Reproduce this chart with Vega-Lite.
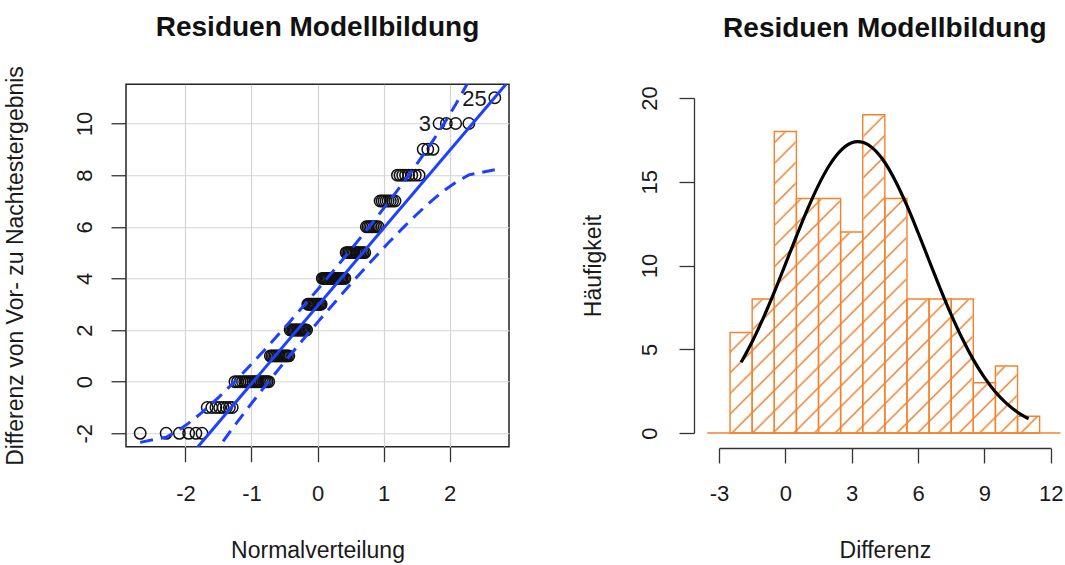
{
  "$schema": "https://vega.github.io/schema/vega-lite/v6.json",
  "autosize": {"type": "pad"},
  "padding": {"left": 3, "top": 13, "right": 0, "bottom": 0},
  "background": "white",
  "bounds": "flush",
  "center": true,
  "spacing": 210,
  "config": {
    "font": "Liberation Sans",
    "axis": {
      "labelFont": "Liberation Sans",
      "titleFont": "Liberation Sans",
      "labelFontSize": 22,
      "titleFontSize": 23,
      "labelColor": "#1a1a1a",
      "titleColor": "#1a1a1a",
      "titleFontWeight": "normal",
      "tickColor": "#333333",
      "domainColor": "#333333",
      "tickSize": 15,
      "tickWidth": 1.3,
      "domainWidth": 1.3,
      "labelFlush": false,
      "labelOverlap": false,
      "gridColor": "#d4d4d4",
      "gridWidth": 1.2
    },
    "title": {"font": "Liberation Sans", "fontSize": 28, "fontWeight": "bold", "color": "#111111", "baseline": "alphabetic", "anchor": "middle", "frame": "group"}
  },
  "datasets": {
    "qq": [
      {"q": -2.685, "v": -2}, {"q": -2.292, "v": -2}, {"q": -2.092, "v": -2}, {"q": -1.951, "v": -2}, {"q": -1.841, "v": -2}, {"q": -1.749, "v": -2},
      {"q": -1.670, "v": -1}, {"q": -1.601, "v": -1}, {"q": -1.538, "v": -1}, {"q": -1.481, "v": -1}, {"q": -1.428, "v": -1}, {"q": -1.379, "v": -1}, {"q": -1.334, "v": -1}, {"q": -1.291, "v": -1},
      {"q": -1.250, "v": 0}, {"q": -1.211, "v": 0}, {"q": -1.173, "v": 0}, {"q": -1.137, "v": 0}, {"q": -1.103, "v": 0}, {"q": -1.070, "v": 0}, {"q": -1.038, "v": 0}, {"q": -1.007, "v": 0}, {"q": -0.977, "v": 0}, {"q": -0.948, "v": 0}, {"q": -0.920, "v": 0}, {"q": -0.892, "v": 0}, {"q": -0.866, "v": 0}, {"q": -0.839, "v": 0}, {"q": -0.813, "v": 0}, {"q": -0.788, "v": 0}, {"q": -0.763, "v": 0}, {"q": -0.739, "v": 0},
      {"q": -0.715, "v": 1}, {"q": -0.692, "v": 1}, {"q": -0.668, "v": 1}, {"q": -0.646, "v": 1}, {"q": -0.624, "v": 1}, {"q": -0.602, "v": 1}, {"q": -0.580, "v": 1}, {"q": -0.558, "v": 1}, {"q": -0.537, "v": 1}, {"q": -0.516, "v": 1}, {"q": -0.495, "v": 1}, {"q": -0.475, "v": 1}, {"q": -0.454, "v": 1}, {"q": -0.434, "v": 1},
      {"q": -0.414, "v": 2}, {"q": -0.394, "v": 2}, {"q": -0.374, "v": 2}, {"q": -0.355, "v": 2}, {"q": -0.336, "v": 2}, {"q": -0.316, "v": 2}, {"q": -0.297, "v": 2}, {"q": -0.278, "v": 2}, {"q": -0.259, "v": 2}, {"q": -0.240, "v": 2}, {"q": -0.222, "v": 2}, {"q": -0.203, "v": 2}, {"q": -0.184, "v": 2}, {"q": -0.165, "v": 2},
      {"q": -0.147, "v": 3}, {"q": -0.129, "v": 3}, {"q": -0.110, "v": 3}, {"q": -0.092, "v": 3}, {"q": -0.073, "v": 3}, {"q": -0.055, "v": 3}, {"q": -0.037, "v": 3}, {"q": -0.018, "v": 3}, {"q": 0, "v": 3}, {"q": 0.018, "v": 3}, {"q": 0.037, "v": 3}, {"q": 0.055, "v": 3},
      {"q": 0.073, "v": 4}, {"q": 0.092, "v": 4}, {"q": 0.110, "v": 4}, {"q": 0.129, "v": 4}, {"q": 0.147, "v": 4}, {"q": 0.165, "v": 4}, {"q": 0.184, "v": 4}, {"q": 0.203, "v": 4}, {"q": 0.222, "v": 4}, {"q": 0.240, "v": 4}, {"q": 0.259, "v": 4}, {"q": 0.278, "v": 4}, {"q": 0.297, "v": 4}, {"q": 0.316, "v": 4}, {"q": 0.336, "v": 4}, {"q": 0.355, "v": 4}, {"q": 0.374, "v": 4}, {"q": 0.394, "v": 4}, {"q": 0.414, "v": 4},
      {"q": 0.434, "v": 5}, {"q": 0.454, "v": 5}, {"q": 0.475, "v": 5}, {"q": 0.495, "v": 5}, {"q": 0.516, "v": 5}, {"q": 0.537, "v": 5}, {"q": 0.558, "v": 5}, {"q": 0.580, "v": 5}, {"q": 0.602, "v": 5}, {"q": 0.624, "v": 5}, {"q": 0.646, "v": 5}, {"q": 0.668, "v": 5}, {"q": 0.692, "v": 5}, {"q": 0.715, "v": 5},
      {"q": 0.739, "v": 6}, {"q": 0.763, "v": 6}, {"q": 0.788, "v": 6}, {"q": 0.813, "v": 6}, {"q": 0.839, "v": 6}, {"q": 0.866, "v": 6}, {"q": 0.892, "v": 6}, {"q": 0.920, "v": 6},
      {"q": 0.948, "v": 7}, {"q": 0.977, "v": 7}, {"q": 1.007, "v": 7}, {"q": 1.038, "v": 7}, {"q": 1.070, "v": 7}, {"q": 1.103, "v": 7}, {"q": 1.137, "v": 7}, {"q": 1.173, "v": 7},
      {"q": 1.211, "v": 8}, {"q": 1.250, "v": 8}, {"q": 1.291, "v": 8}, {"q": 1.334, "v": 8}, {"q": 1.379, "v": 8}, {"q": 1.428, "v": 8}, {"q": 1.481, "v": 8}, {"q": 1.538, "v": 8},
      {"q": 1.601, "v": 9}, {"q": 1.670, "v": 9}, {"q": 1.749, "v": 9},
      {"q": 1.841, "v": 10, "lab": "3"}, {"q": 1.951, "v": 10}, {"q": 2.092, "v": 10}, {"q": 2.292, "v": 10},
      {"q": 2.685, "v": 11, "lab": "25"}
    ],
    "fit": [
      {"q": -2.9, "v": -5.799}, {"q": 2.9, "v": 11.659}
    ],
    "env": [
      {"q": -2.685, "hi": -2.350, "lo": -7.954},
      {"q": -2.292, "hi": -2.151, "lo": -5.787},
      {"q": -2.092, "hi": -1.859, "lo": -4.875},
      {"q": -1.951, "hi": -1.605, "lo": -4.280},
      {"q": -1.841, "hi": -1.385, "lo": -3.837},
      {"q": -1.749, "hi": -1.190, "lo": -3.479},
      {"q": -1.601, "hi": -0.854, "lo": -2.924},
      {"q": -1.481, "hi": -0.567, "lo": -2.489},
      {"q": -1.291, "hi": -0.090, "lo": -1.822},
      {"q": -1.070, "hi": 0.492, "lo": -1.073},
      {"q": -0.788, "hi": 1.267, "lo": -0.150},
      {"q": -0.454, "hi": 2.219, "lo": 0.908},
      {"q": 0, "hi": 3.562, "lo": 2.298},
      {"q": 0.454, "hi": 4.952, "lo": 3.641},
      {"q": 0.788, "hi": 6.010, "lo": 4.594},
      {"q": 1.070, "hi": 6.933, "lo": 5.368},
      {"q": 1.291, "hi": 7.682, "lo": 5.950},
      {"q": 1.481, "hi": 8.349, "lo": 6.427},
      {"q": 1.601, "hi": 8.784, "lo": 6.714},
      {"q": 1.749, "hi": 9.339, "lo": 7.050},
      {"q": 1.841, "hi": 9.697, "lo": 7.245},
      {"q": 1.951, "hi": 10.140, "lo": 7.465},
      {"q": 2.092, "hi": 10.735, "lo": 7.719},
      {"q": 2.292, "hi": 11.647, "lo": 8.011},
      {"q": 2.685, "hi": 13.814, "lo": 8.210}
    ],
    "hist": [
      {"bin_start": -2.5, "bin_end": -1.5, "count": 6},
      {"bin_start": -1.5, "bin_end": -0.5, "count": 8},
      {"bin_start": -0.5, "bin_end": 0.5, "count": 18},
      {"bin_start": 0.5, "bin_end": 1.5, "count": 14},
      {"bin_start": 1.5, "bin_end": 2.5, "count": 14},
      {"bin_start": 2.5, "bin_end": 3.5, "count": 12},
      {"bin_start": 3.5, "bin_end": 4.5, "count": 19},
      {"bin_start": 4.5, "bin_end": 5.5, "count": 14},
      {"bin_start": 5.5, "bin_end": 6.5, "count": 8},
      {"bin_start": 6.5, "bin_end": 7.5, "count": 8},
      {"bin_start": 7.5, "bin_end": 8.5, "count": 8},
      {"bin_start": 8.5, "bin_end": 9.5, "count": 3},
      {"bin_start": 9.5, "bin_end": 10.5, "count": 4},
      {"bin_start": 10.5, "bin_end": 11.5, "count": 1}
    ],
    "curve": [
      {"x": -2, "f": 4.22}, {"x": -1.5, "f": 5.45}, {"x": -1, "f": 6.86}, {"x": -0.5, "f": 8.41},
      {"x": 0, "f": 10.07}, {"x": 0.5, "f": 11.74}, {"x": 1, "f": 13.35}, {"x": 1.5, "f": 14.80},
      {"x": 2, "f": 16.00}, {"x": 2.5, "f": 16.86}, {"x": 3, "f": 17.33}, {"x": 3.285, "f": 17.40},
      {"x": 3.5, "f": 17.36}, {"x": 4, "f": 16.95}, {"x": 4.5, "f": 16.15}, {"x": 5, "f": 14.99},
      {"x": 5.5, "f": 13.57}, {"x": 6, "f": 11.97}, {"x": 6.5, "f": 10.30}, {"x": 7, "f": 8.64},
      {"x": 7.5, "f": 7.07}, {"x": 8, "f": 5.64}, {"x": 8.5, "f": 4.38}, {"x": 9, "f": 3.32},
      {"x": 9.5, "f": 2.45}, {"x": 10, "f": 1.77}, {"x": 10.5, "f": 1.24}, {"x": 11, "f": 0.85}
    ]
  },
  "hconcat": [
    {
      "width": 383,
      "height": 362.5,
      "title": {"text": "Residuen Modellbildung", "offset": 23.5},
      "view": {"stroke": "#222222", "strokeWidth": 1.5},
      "layer": [
        {
          "data": {"name": "qq"},
          "mark": {"type": "point", "filled": false, "stroke": "#111111", "strokeWidth": 1.5, "size": 130, "opacity": 1},
          "encoding": {
            "x": {"field": "q", "type": "quantitative", "scale": {"domain": [-2.9, 2.9], "nice": false, "zero": false},
              "axis": {"title": "Normalverteilung", "values": [-2, -1, 0, 1, 2], "grid": true, "domain": false, "labelExpr": "datum.value + ''", "labelBaseline": "alphabetic", "labelPadding": 38.5, "titleBaseline": "alphabetic", "titleY": 111}},
            "y": {"field": "v", "type": "quantitative", "scale": {"domain": [-2.52, 11.52], "nice": false, "zero": false},
              "axis": {"title": "Differenz von Vor- zu Nachtestergebnis", "values": [-2, 0, 2, 4, 6, 8, 10], "grid": true, "domain": false, "labelExpr": "datum.value + ''", "labelAngle": 270, "labelAlign": "center", "labelBaseline": "alphabetic", "labelPadding": 20, "titleAngle": 270, "titleAlign": "center", "titleBaseline": "alphabetic", "titleX": -104, "titleY": 181.25}}
          }
        },
        {
          "data": {"name": "fit"},
          "mark": {"type": "line", "color": "#1e40ff", "strokeWidth": 3, "clip": true},
          "encoding": {
            "x": {"field": "q", "type": "quantitative"},
            "y": {"field": "v", "type": "quantitative"}
          }
        },
        {
          "data": {"name": "env"},
          "mark": {"type": "line", "color": "#1e40ff", "strokeWidth": 3, "strokeDash": [13, 8], "clip": true},
          "encoding": {
            "x": {"field": "q", "type": "quantitative"},
            "y": {"field": "hi", "type": "quantitative"}
          }
        },
        {
          "data": {"name": "env"},
          "mark": {"type": "line", "color": "#1e40ff", "strokeWidth": 3, "strokeDash": [13, 8], "clip": true},
          "encoding": {
            "x": {"field": "q", "type": "quantitative"},
            "y": {"field": "lo", "type": "quantitative"}
          }
        },
        {
          "data": {"name": "qq"},
          "transform": [{"filter": "isValid(datum.lab)"}],
          "mark": {"type": "text", "align": "right", "baseline": "middle", "dx": -8, "dy": 1, "fontSize": 22, "font": "Liberation Sans", "color": "#1a1a1a"},
          "encoding": {
            "x": {"field": "q", "type": "quantitative"},
            "y": {"field": "v", "type": "quantitative"},
            "text": {"field": "lab"}
          }
        }
      ]
    },
    {
      "width": 331.7,
      "height": 335,
      "title": {"text": "Residuen Modellbildung", "offset": 42.75},
      "view": {"stroke": null},
      "layer": [
        {
          "data": {"name": "hist"},
          "mark": {"type": "rect", "fillOpacity": 0, "strokeWidth": 0},
          "encoding": {
            "x": {"field": "bin_start", "type": "quantitative", "scale": {"domain": [-3, 12], "nice": false, "zero": false},
              "axis": {"title": "Differenz", "values": [-3, 0, 3, 6, 9, 12], "grid": false, "domain": true, "offset": 15, "labelExpr": "datum.value + ''", "labelBaseline": "alphabetic", "labelPadding": 37, "titleBaseline": "alphabetic", "titleY": 109.75}},
            "x2": {"field": "bin_end"},
            "y": {"field": "count", "type": "quantitative", "scale": {"domain": [0, 20], "nice": false, "zero": false},
              "axis": {"title": "Häufigkeit", "values": [0, 5, 10, 15, 20], "grid": false, "domain": true, "offset": 25, "labelExpr": "datum.value + ''", "labelAngle": 270, "labelAlign": "center", "labelBaseline": "alphabetic", "labelPadding": 23, "titleAngle": 270, "titleAlign": "center", "titleBaseline": "alphabetic", "titleX": -94, "titleY": 167.5}},
            "y2": {"datum": 0}
          }
        },
        {
          "data": {"values": [{}]},
          "mark": {"type": "rect", "strokeWidth": 0, "fill": {"gradient": "linear", "x1": 0, "y1": 0, "x2": 0.9728, "y2": 1, "stops": [
            {"offset": 0, "color": "#ffffff"},
            {"offset": 0.0132, "color": "#ffffff"}, {"offset": 0.0167, "color": "#f08436"}, {"offset": 0.0202, "color": "#ffffff"},
            {"offset": 0.0465, "color": "#ffffff"}, {"offset": 0.0500, "color": "#f08436"}, {"offset": 0.0535, "color": "#ffffff"},
            {"offset": 0.0798, "color": "#ffffff"}, {"offset": 0.0833, "color": "#f08436"}, {"offset": 0.0868, "color": "#ffffff"},
            {"offset": 0.1132, "color": "#ffffff"}, {"offset": 0.1167, "color": "#f08436"}, {"offset": 0.1202, "color": "#ffffff"},
            {"offset": 0.1465, "color": "#ffffff"}, {"offset": 0.1500, "color": "#f08436"}, {"offset": 0.1535, "color": "#ffffff"},
            {"offset": 0.1798, "color": "#ffffff"}, {"offset": 0.1833, "color": "#f08436"}, {"offset": 0.1868, "color": "#ffffff"},
            {"offset": 0.2132, "color": "#ffffff"}, {"offset": 0.2167, "color": "#f08436"}, {"offset": 0.2202, "color": "#ffffff"},
            {"offset": 0.2465, "color": "#ffffff"}, {"offset": 0.2500, "color": "#f08436"}, {"offset": 0.2535, "color": "#ffffff"},
            {"offset": 0.2798, "color": "#ffffff"}, {"offset": 0.2833, "color": "#f08436"}, {"offset": 0.2868, "color": "#ffffff"},
            {"offset": 0.3132, "color": "#ffffff"}, {"offset": 0.3167, "color": "#f08436"}, {"offset": 0.3202, "color": "#ffffff"},
            {"offset": 0.3465, "color": "#ffffff"}, {"offset": 0.3500, "color": "#f08436"}, {"offset": 0.3535, "color": "#ffffff"},
            {"offset": 0.3798, "color": "#ffffff"}, {"offset": 0.3833, "color": "#f08436"}, {"offset": 0.3868, "color": "#ffffff"},
            {"offset": 0.4132, "color": "#ffffff"}, {"offset": 0.4167, "color": "#f08436"}, {"offset": 0.4202, "color": "#ffffff"},
            {"offset": 0.4465, "color": "#ffffff"}, {"offset": 0.4500, "color": "#f08436"}, {"offset": 0.4535, "color": "#ffffff"},
            {"offset": 0.4798, "color": "#ffffff"}, {"offset": 0.4833, "color": "#f08436"}, {"offset": 0.4868, "color": "#ffffff"},
            {"offset": 0.5132, "color": "#ffffff"}, {"offset": 0.5167, "color": "#f08436"}, {"offset": 0.5202, "color": "#ffffff"},
            {"offset": 0.5465, "color": "#ffffff"}, {"offset": 0.5500, "color": "#f08436"}, {"offset": 0.5535, "color": "#ffffff"},
            {"offset": 0.5798, "color": "#ffffff"}, {"offset": 0.5833, "color": "#f08436"}, {"offset": 0.5868, "color": "#ffffff"},
            {"offset": 0.6132, "color": "#ffffff"}, {"offset": 0.6167, "color": "#f08436"}, {"offset": 0.6202, "color": "#ffffff"},
            {"offset": 0.6465, "color": "#ffffff"}, {"offset": 0.6500, "color": "#f08436"}, {"offset": 0.6535, "color": "#ffffff"},
            {"offset": 0.6798, "color": "#ffffff"}, {"offset": 0.6833, "color": "#f08436"}, {"offset": 0.6868, "color": "#ffffff"},
            {"offset": 0.7132, "color": "#ffffff"}, {"offset": 0.7167, "color": "#f08436"}, {"offset": 0.7202, "color": "#ffffff"},
            {"offset": 0.7465, "color": "#ffffff"}, {"offset": 0.7500, "color": "#f08436"}, {"offset": 0.7535, "color": "#ffffff"},
            {"offset": 0.7798, "color": "#ffffff"}, {"offset": 0.7833, "color": "#f08436"}, {"offset": 0.7868, "color": "#ffffff"},
            {"offset": 0.8132, "color": "#ffffff"}, {"offset": 0.8167, "color": "#f08436"}, {"offset": 0.8202, "color": "#ffffff"},
            {"offset": 0.8465, "color": "#ffffff"}, {"offset": 0.8500, "color": "#f08436"}, {"offset": 0.8535, "color": "#ffffff"},
            {"offset": 0.8798, "color": "#ffffff"}, {"offset": 0.8833, "color": "#f08436"}, {"offset": 0.8868, "color": "#ffffff"},
            {"offset": 0.9132, "color": "#ffffff"}, {"offset": 0.9167, "color": "#f08436"}, {"offset": 0.9202, "color": "#ffffff"},
            {"offset": 0.9465, "color": "#ffffff"}, {"offset": 0.9500, "color": "#f08436"}, {"offset": 0.9535, "color": "#ffffff"},
            {"offset": 0.9798, "color": "#ffffff"}, {"offset": 0.9833, "color": "#f08436"}, {"offset": 0.9868, "color": "#ffffff"},
            {"offset": 1, "color": "#ffffff"}
          ]}},
          "encoding": {
            "x": {"datum": -2.5, "type": "quantitative"},
            "x2": {"datum": 11.5},
            "y": {"datum": 0, "type": "quantitative"},
            "y2": {"datum": 19}
          }
        },
        {
          "data": {"name": "hist"},
          "mark": {"type": "rect", "fill": "#ffffff", "stroke": "#ffffff", "strokeWidth": 1.5},
          "encoding": {
            "x": {"field": "bin_start", "type": "quantitative"},
            "x2": {"field": "bin_end"},
            "y": {"field": "count", "type": "quantitative"},
            "y2": {"datum": 19}
          }
        },
        {
          "data": {"name": "hist"},
          "mark": {"type": "rect", "fillOpacity": 0, "stroke": "#f4822c", "strokeWidth": 1.4},
          "encoding": {
            "x": {"field": "bin_start", "type": "quantitative"},
            "x2": {"field": "bin_end"},
            "y": {"field": "count", "type": "quantitative"},
            "y2": {"datum": 0}
          }
        },
        {
          "data": {"name": "curve"},
          "mark": {"type": "line", "color": "#000000", "strokeWidth": 3.2, "interpolate": "monotone"},
          "encoding": {
            "x": {"field": "x", "type": "quantitative"},
            "y": {"field": "f", "type": "quantitative"}
          }
        },
        {
          "data": {"values": [{}]},
          "mark": {"type": "rule", "color": "#f4822c", "strokeWidth": 1.6},
          "encoding": {
            "x": {"datum": -3.53, "type": "quantitative"},
            "x2": {"datum": 12.44},
            "y": {"datum": 0, "type": "quantitative"}
          }
        }
      ]
    }
  ]
}
